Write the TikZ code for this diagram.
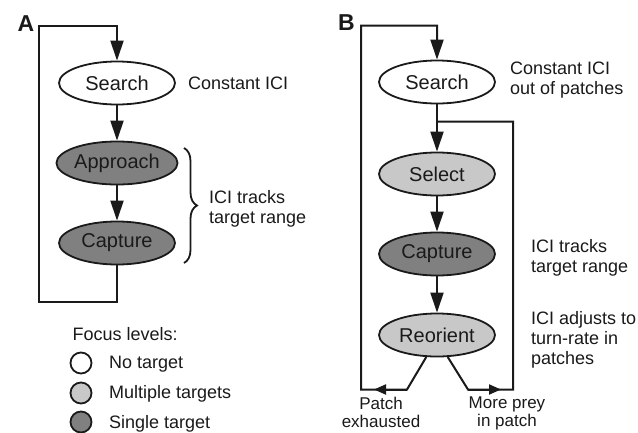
\documentclass[tikz,border=0pt]{standalone}
\usepackage{fontspec}
\setmainfont{Liberation Sans}
\usetikzlibrary{arrows.meta,decorations.pathreplacing,shapes.geometric}
\definecolor{lightfocus}{HTML}{C8C8C8}
\definecolor{darkfocus}{HTML}{808080}
\definecolor{ink}{HTML}{1A1A1A}
\begin{document}
\begin{tikzpicture}[x=1pt,y=-1pt,
  state/.style={ellipse, draw=ink, line width=1.8pt, minimum width=116pt,
    minimum height=43pt, inner sep=0pt, text=ink,
    font=\fontsize{20}{24}\selectfont},
  nofocus/.style={state, fill=white},
  multifocus/.style={state, fill=lightfocus},
  singlefocus/.style={state, fill=darkfocus},
  link/.style={draw=ink, line width=2pt},
  flow/.style={link, -{Triangle[length=20pt,width=13pt]}},
  smallflow/.style={link, -{Triangle[length=12pt,width=10pt]}},
  note/.style={inner sep=0pt, align=left, text=ink,
    font=\fontsize{18}{20}\selectfont},
  panel/.style={inner sep=0pt, text=ink, font=\fontsize{23}{26}\selectfont\bfseries},
  key/.style={circle, draw=ink, line width=1.8pt, minimum size=21pt, inner sep=0pt},
]
\path[fill=white, use as bounding box] (0,0) rectangle (638,432);

% ---------------- Panel A ----------------
\node[panel] (A) at (26,23.5) {A};
\node[nofocus]     (sA) at (117,83)  {Search};
\node[singlefocus] (aA) at (117,163) {Approach};
\node[singlefocus] (cA) at (117,243) {Capture};

\coordinate (aBL) at (39,302);
\coordinate (aTL) at (39,25.5);

\draw[flow] (sA) -- (aA);
\draw[flow] (aA) -- (cA);
\draw[flow] (cA.south) |- (aBL) -- (aTL) -| (sA.north);

\node[note, anchor=north west] (ciA) at (188,77) {Constant ICI};
\coordinate (brTop) at (184,148);
\coordinate (brBot) at (184,263);
\draw[link, line width=1.8pt, decorate, decoration={brace, amplitude=13pt}]
  (brTop) -- (brBot);
\node[note, anchor=north west] (trA) at (209,190) {ICI tracks\\target range};

% legend
\node[note, anchor=base west] (fl) at (72.5,340) {Focus levels:};
\node[key, fill=white]      (k1) at (81,363) {};
\node[key, fill=lightfocus] (k2) at (81,393) {};
\node[key, fill=darkfocus]  (k3) at (81,422) {};
\node[note, anchor=base west] (l1) at (109,368.5) {No target};
\node[note, anchor=base west] (l2) at (109,398.5) {Multiple targets};
\node[note, anchor=base west] (l3) at (109,428) {Single target};

% ---------------- Panel B ----------------
\node[panel] (B) at (346.5,23) {B};
\node[nofocus]     (sB)   at (437,82)  {Search};
\node[multifocus]  (selB) at (437,174) {Select};
\node[singlefocus] (capB) at (437,254) {Capture};
\node[multifocus]  (reoB) at (437,335) {Reorient};

\coordinate (jn)   at (437,121.5);
\coordinate (bJR)  at (513,121.5);
\coordinate (bBR)  at (513,389.5);
\coordinate (mR)   at (468,389.5);
\coordinate (mTip) at (501,389.5);
\coordinate (pL)   at (407,389.5);
\coordinate (pTip) at (374,389.5);
\coordinate (bBL)  at (361,389.5);
\coordinate (bTL)  at (361,25.5);

\draw[flow] (sB) -- (selB);
\draw[flow] (selB) -- (capB);
\draw[flow] (capB) -- (reoB);

% patch exhausted: back to search
\draw[flow] (reoB.244) -- (pL) -- (bBL) -- (bTL) -| (sB.north);
\draw[smallflow] (pL) -- (pTip);
% more prey in patch: back to select
\draw[link] (reoB.296) -- (mR) -- (bBR) -- (bJR) -- (jn);
\draw[smallflow] (mR) -- (mTip);

\node[note, anchor=north west] (ciB)  at (510,62)  {Constant ICI\\out of patches};
\node[note, anchor=north west] (trB)  at (531,239) {ICI tracks\\target range};
\node[note, anchor=north west] (adjB) at (531,311) {ICI adjusts to\\turn-rate in\\patches};

\node[note, align=center, anchor=north, font=\fontsize{17}{18}\selectfont]
  (pe) at (381,397) {Patch\\exhausted};
\node[note, align=center, anchor=north, font=\fontsize{17}{18}\selectfont]
  (mp) at (507,397) {More prey\\in patch};
\end{tikzpicture}
\end{document}
